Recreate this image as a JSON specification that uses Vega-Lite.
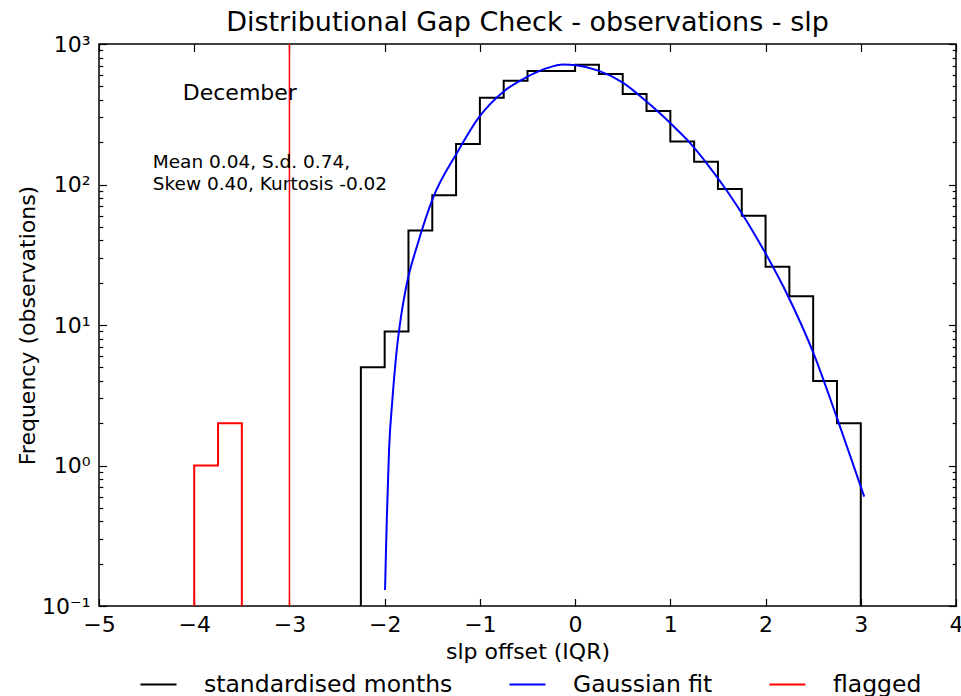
{
  "$schema": "https://vega.github.io/schema/vega-lite/v6.json",
  "width": 857,
  "height": 562,
  "autosize": "none",
  "padding": {"left": 99, "top": 44, "right": 5, "bottom": 90},
  "config": {
    "font": "DejaVu Sans",
    "view": {"stroke": "#000000", "strokeWidth": 1.5},
    "axis": {"grid": false, "domain": false, "labelColor": "#000000", "titleColor": "#000000", "tickColor": "#000000", "tickWidth": 1.2, "labelFlush": false, "labelOverlap": false}
  },
  "title": {"text": "Distributional Gap Check - observations - slp", "fontSize": 27, "fontWeight": "normal", "anchor": "middle", "offset": -4, "color": "#000000"},
  "datasets": {
    "hist": [
      {"i": 0, "x": -2.25, "count": 0.1, "series": "standardised months"},
      {"i": 1, "x": -2.25, "count": 5, "series": "standardised months"},
      {"i": 2, "x": -2.0, "count": 9, "series": "standardised months"},
      {"i": 3, "x": -1.75, "count": 47, "series": "standardised months"},
      {"i": 4, "x": -1.5, "count": 84, "series": "standardised months"},
      {"i": 5, "x": -1.25, "count": 194, "series": "standardised months"},
      {"i": 6, "x": -1.0, "count": 415, "series": "standardised months"},
      {"i": 7, "x": -0.75, "count": 548, "series": "standardised months"},
      {"i": 8, "x": -0.5, "count": 642, "series": "standardised months"},
      {"i": 9, "x": -0.25, "count": 642, "series": "standardised months"},
      {"i": 10, "x": 0.0, "count": 713, "series": "standardised months"},
      {"i": 11, "x": 0.25, "count": 612, "series": "standardised months"},
      {"i": 12, "x": 0.5, "count": 441, "series": "standardised months"},
      {"i": 13, "x": 0.75, "count": 334, "series": "standardised months"},
      {"i": 14, "x": 1.0, "count": 202, "series": "standardised months"},
      {"i": 15, "x": 1.25, "count": 145, "series": "standardised months"},
      {"i": 16, "x": 1.5, "count": 93, "series": "standardised months"},
      {"i": 17, "x": 1.75, "count": 60, "series": "standardised months"},
      {"i": 18, "x": 2.0, "count": 26, "series": "standardised months"},
      {"i": 19, "x": 2.25, "count": 16, "series": "standardised months"},
      {"i": 20, "x": 2.5, "count": 4, "series": "standardised months"},
      {"i": 21, "x": 2.75, "count": 2, "series": "standardised months"},
      {"i": 22, "x": 3.0, "count": 0.1, "series": "standardised months"}
    ],
    "flagged": [
      {"i": 0, "x": -4.0, "count": 0.1, "series": "flagged"},
      {"i": 1, "x": -4.0, "count": 1, "series": "flagged"},
      {"i": 2, "x": -3.75, "count": 2, "series": "flagged"},
      {"i": 3, "x": -3.5, "count": 0.1, "series": "flagged"}
    ],
    "fit": [
      {"x": -1.996, "y": 0.13, "series": "Gaussian fit"},
      {"x": -1.986, "y": 0.25, "series": "Gaussian fit"},
      {"x": -1.976, "y": 0.45, "series": "Gaussian fit"},
      {"x": -1.954, "y": 1.29, "series": "Gaussian fit"},
      {"x": -1.919, "y": 2.93, "series": "Gaussian fit"},
      {"x": -1.873, "y": 6.64, "series": "Gaussian fit"},
      {"x": -1.828, "y": 11.5, "series": "Gaussian fit"},
      {"x": -1.768, "y": 19.6, "series": "Gaussian fit"},
      {"x": -1.656, "y": 37.2, "series": "Gaussian fit"},
      {"x": -1.495, "y": 79.4, "series": "Gaussian fit"},
      {"x": -1.243, "y": 166.8, "series": "Gaussian fit"},
      {"x": -1.005, "y": 304, "series": "Gaussian fit"},
      {"x": -0.753, "y": 458, "series": "Gaussian fit"},
      {"x": -0.501, "y": 585, "series": "Gaussian fit"},
      {"x": -0.297, "y": 673, "series": "Gaussian fit"},
      {"x": -0.123, "y": 715, "series": "Gaussian fit"},
      {"x": 0.011, "y": 705, "series": "Gaussian fit"},
      {"x": 0.245, "y": 646, "series": "Gaussian fit"},
      {"x": 0.501, "y": 531, "series": "Gaussian fit"},
      {"x": 0.753, "y": 388, "series": "Gaussian fit"},
      {"x": 0.893, "y": 320, "series": "Gaussian fit"},
      {"x": 1.068, "y": 246.6, "series": "Gaussian fit"},
      {"x": 1.208, "y": 197, "series": "Gaussian fit"},
      {"x": 1.384, "y": 141, "series": "Gaussian fit"},
      {"x": 1.594, "y": 90.2, "series": "Gaussian fit"},
      {"x": 1.804, "y": 54.6, "series": "Gaussian fit"},
      {"x": 2.014, "y": 31.1, "series": "Gaussian fit"},
      {"x": 2.224, "y": 16.7, "series": "Gaussian fit"},
      {"x": 2.503, "y": 6.31, "series": "Gaussian fit"},
      {"x": 2.749, "y": 2.19, "series": "Gaussian fit"},
      {"x": 2.889, "y": 1.17, "series": "Gaussian fit"},
      {"x": 3.036, "y": 0.6, "series": "Gaussian fit"}
    ],
    "threshold": [{"x": -3.0}],
    "month": [{"x": -4.12, "y": 400, "label": "December"}],
    "stats": [
      {"x": -4.436, "y": 131, "label": "Mean 0.04, S.d. 0.74,"},
      {"x": -4.436, "y": 91.4, "label": "Skew 0.40, Kurtosis -0.02"}
    ]
  },
  "resolve": {
    "axis": {"x": "independent", "y": "independent"},
    "scale": {"x": "shared", "y": "shared", "color": "shared"}
  },
  "layer": [
    {
      "data": {"name": "hist"},
      "mark": {"type": "line", "interpolate": "step-after", "strokeWidth": 2, "clip": true},
      "encoding": {
        "x": {"field": "x", "type": "quantitative",
          "scale": {"domain": [-5, 4], "nice": false, "zero": false},
          "axis": {"orient": "bottom", "values": [-5, -4, -3, -2, -1, 0, 1, 2, 3, 4], "ticks": false, "labelPadding": 8, "labelFontSize": 22, "title": "slp offset (IQR)", "titleFontSize": 22, "titleFontWeight": "normal", "titlePadding": 6}},
        "y": {"field": "count", "type": "quantitative",
          "scale": {"type": "log", "domain": [0.1, 1000], "nice": false},
          "axis": {"orient": "left", "values": [0.1, 1, 10, 100, 1000], "ticks": false, "labelPadding": 9, "labelFontSize": 22,
            "labelExpr": "datum.value >= 999 ? '10³' : datum.value >= 99 ? '10²' : datum.value >= 9 ? '10¹' : datum.value >= 0.9 ? '10⁰' : '10⁻¹'",
            "title": "Frequency (observations)", "titleFontSize": 22, "titleFontWeight": "normal", "titlePadding": 2}},
        "order": {"field": "i", "type": "quantitative"},
        "color": {"field": "series", "type": "nominal",
          "scale": {"domain": ["standardised months", "Gaussian fit", "flagged"], "range": ["#000000", "#0000ff", "#ff0000"]},
          "legend": {"title": null, "orient": "none", "direction": "horizontal", "legendX": 40, "legendY": 621, "symbolType": "stroke", "symbolStrokeWidth": 2, "symbolSize": 1300, "labelFontSize": 23.5, "labelLimit": 0, "labelOffset": 26, "columnPadding": 52, "labelColor": "#000000"}}
      }
    },
    {
      "data": {"name": "fit"},
      "mark": {"type": "line", "interpolate": "monotone", "strokeWidth": 2, "clip": true},
      "encoding": {
        "x": {"field": "x", "type": "quantitative",
          "axis": {"orient": "top", "values": [-5, -4, -3, -2, -1, 0, 1, 2, 3, 4], "labels": false, "ticks": true, "tickSize": -7.5, "title": null}},
        "y": {"field": "y", "type": "quantitative",
          "axis": {"orient": "right", "values": [0.1, 1, 10, 100, 1000], "labels": false, "ticks": true, "tickSize": -7.5, "title": null}},
        "color": {"field": "series", "type": "nominal"}
      }
    },
    {
      "data": {"name": "flagged"},
      "mark": {"type": "line", "interpolate": "step-after", "strokeWidth": 2, "clip": true},
      "encoding": {
        "x": {"field": "x", "type": "quantitative",
          "axis": {"orient": "bottom", "values": [-5, -4, -3, -2, -1, 0, 1, 2, 3, 4], "labels": false, "ticks": true, "tickSize": -7.5, "title": null}},
        "y": {"field": "count", "type": "quantitative",
          "axis": {"orient": "left", "values": [0.1, 1, 10, 100, 1000], "labels": false, "ticks": true, "tickSize": -7.5, "title": null}},
        "order": {"field": "i", "type": "quantitative"},
        "color": {"field": "series", "type": "nominal"}
      }
    },
    {
      "data": {"name": "threshold"},
      "mark": {"type": "rule", "color": "#ff0000", "strokeWidth": 1.5},
      "encoding": {
        "x": {"field": "x", "type": "quantitative", "axis": null}
      }
    },
    {
      "data": {"name": "month"},
      "mark": {"type": "text", "align": "left", "baseline": "alphabetic", "fontSize": 22, "color": "#000000"},
      "encoding": {
        "x": {"field": "x", "type": "quantitative", "axis": null},
        "y": {"field": "y", "type": "quantitative",
          "axis": {"orient": "right", "values": [0.2, 0.3, 0.4, 0.5, 0.6, 0.7, 0.8, 0.9, 2, 3, 4, 5, 6, 7, 8, 9, 20, 30, 40, 50, 60, 70, 80, 90, 200, 300, 400, 500, 600, 700, 800, 900], "labels": false, "ticks": true, "tickSize": -3.8, "title": null}},
        "text": {"field": "label"}
      }
    },
    {
      "data": {"name": "stats"},
      "mark": {"type": "text", "align": "left", "baseline": "alphabetic", "fontSize": 18.5, "color": "#000000"},
      "encoding": {
        "x": {"field": "x", "type": "quantitative", "axis": null},
        "y": {"field": "y", "type": "quantitative",
          "axis": {"orient": "left", "values": [0.2, 0.3, 0.4, 0.5, 0.6, 0.7, 0.8, 0.9, 2, 3, 4, 5, 6, 7, 8, 9, 20, 30, 40, 50, 60, 70, 80, 90, 200, 300, 400, 500, 600, 700, 800, 900], "labels": false, "ticks": true, "tickSize": -3.8, "title": null}},
        "text": {"field": "label"}
      }
    }
  ]
}
